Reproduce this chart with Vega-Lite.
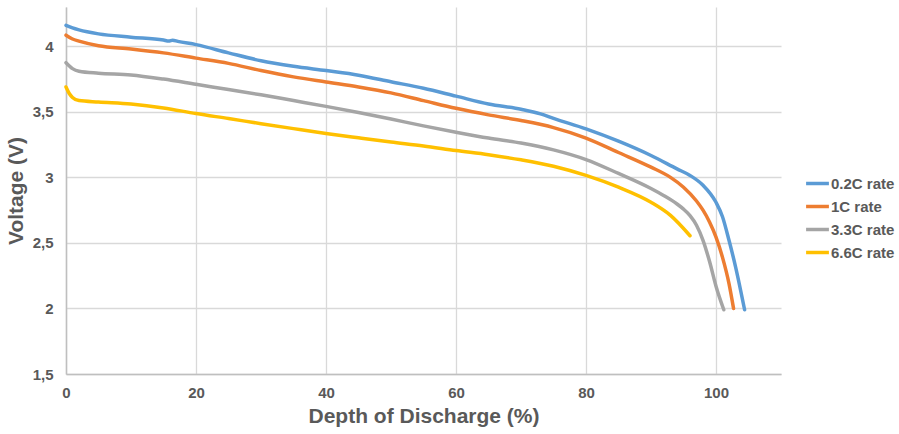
{
  "$schema": "https://vega.github.io/schema/vega-lite/v6.json",
  "width": 715,
  "height": 367,
  "autosize": {"type": "none"},
  "padding": {"left": 66, "top": 7, "right": 118, "bottom": 60},
  "background": "white",
  "config": {"view": {"stroke": null}},
  "datasets": {
    "curves": [
      {"rate": "0.2C rate", "dod": 0, "v": 4.16},
      {"rate": "0.2C rate", "dod": 1, "v": 4.14},
      {"rate": "0.2C rate", "dod": 2, "v": 4.125},
      {"rate": "0.2C rate", "dod": 5, "v": 4.095},
      {"rate": "0.2C rate", "dod": 10, "v": 4.07},
      {"rate": "0.2C rate", "dod": 15, "v": 4.048},
      {"rate": "0.2C rate", "dod": 15.8, "v": 4.04},
      {"rate": "0.2C rate", "dod": 16.4, "v": 4.047},
      {"rate": "0.2C rate", "dod": 17.2, "v": 4.038},
      {"rate": "0.2C rate", "dod": 20, "v": 4.013},
      {"rate": "0.2C rate", "dod": 25, "v": 3.95},
      {"rate": "0.2C rate", "dod": 30, "v": 3.89},
      {"rate": "0.2C rate", "dod": 35, "v": 3.848},
      {"rate": "0.2C rate", "dod": 40, "v": 3.815},
      {"rate": "0.2C rate", "dod": 45, "v": 3.78},
      {"rate": "0.2C rate", "dod": 50, "v": 3.73},
      {"rate": "0.2C rate", "dod": 55, "v": 3.68},
      {"rate": "0.2C rate", "dod": 60, "v": 3.62},
      {"rate": "0.2C rate", "dod": 65, "v": 3.56},
      {"rate": "0.2C rate", "dod": 70, "v": 3.52},
      {"rate": "0.2C rate", "dod": 73, "v": 3.485},
      {"rate": "0.2C rate", "dod": 75, "v": 3.45},
      {"rate": "0.2C rate", "dod": 80, "v": 3.37},
      {"rate": "0.2C rate", "dod": 85, "v": 3.276},
      {"rate": "0.2C rate", "dod": 90, "v": 3.167},
      {"rate": "0.2C rate", "dod": 94, "v": 3.065},
      {"rate": "0.2C rate", "dod": 96, "v": 3.015},
      {"rate": "0.2C rate", "dod": 98, "v": 2.94},
      {"rate": "0.2C rate", "dod": 100, "v": 2.81},
      {"rate": "0.2C rate", "dod": 101, "v": 2.7},
      {"rate": "0.2C rate", "dod": 102, "v": 2.52},
      {"rate": "0.2C rate", "dod": 103, "v": 2.32},
      {"rate": "0.2C rate", "dod": 104.4, "v": 1.99},
      {"rate": "1C rate", "dod": 0, "v": 4.085},
      {"rate": "1C rate", "dod": 1, "v": 4.056},
      {"rate": "1C rate", "dod": 2, "v": 4.04},
      {"rate": "1C rate", "dod": 5, "v": 4.005},
      {"rate": "1C rate", "dod": 10, "v": 3.98},
      {"rate": "1C rate", "dod": 15, "v": 3.95},
      {"rate": "1C rate", "dod": 20, "v": 3.91},
      {"rate": "1C rate", "dod": 25, "v": 3.87},
      {"rate": "1C rate", "dod": 30, "v": 3.815},
      {"rate": "1C rate", "dod": 35, "v": 3.767},
      {"rate": "1C rate", "dod": 40, "v": 3.728},
      {"rate": "1C rate", "dod": 45, "v": 3.69},
      {"rate": "1C rate", "dod": 50, "v": 3.645},
      {"rate": "1C rate", "dod": 55, "v": 3.586},
      {"rate": "1C rate", "dod": 60, "v": 3.527},
      {"rate": "1C rate", "dod": 65, "v": 3.477},
      {"rate": "1C rate", "dod": 70, "v": 3.434},
      {"rate": "1C rate", "dod": 75, "v": 3.38},
      {"rate": "1C rate", "dod": 80, "v": 3.3},
      {"rate": "1C rate", "dod": 85, "v": 3.19},
      {"rate": "1C rate", "dod": 90, "v": 3.078},
      {"rate": "1C rate", "dod": 93, "v": 3.0},
      {"rate": "1C rate", "dod": 95, "v": 2.925},
      {"rate": "1C rate", "dod": 97, "v": 2.82},
      {"rate": "1C rate", "dod": 98, "v": 2.75},
      {"rate": "1C rate", "dod": 99, "v": 2.66},
      {"rate": "1C rate", "dod": 100, "v": 2.545},
      {"rate": "1C rate", "dod": 101, "v": 2.39},
      {"rate": "1C rate", "dod": 102, "v": 2.19},
      {"rate": "1C rate", "dod": 102.7, "v": 2.0},
      {"rate": "3.3C rate", "dod": 0, "v": 3.875},
      {"rate": "3.3C rate", "dod": 1, "v": 3.83},
      {"rate": "3.3C rate", "dod": 2, "v": 3.81},
      {"rate": "3.3C rate", "dod": 5, "v": 3.795},
      {"rate": "3.3C rate", "dod": 10, "v": 3.782},
      {"rate": "3.3C rate", "dod": 15, "v": 3.75},
      {"rate": "3.3C rate", "dod": 20, "v": 3.71},
      {"rate": "3.3C rate", "dod": 25, "v": 3.67},
      {"rate": "3.3C rate", "dod": 30, "v": 3.63},
      {"rate": "3.3C rate", "dod": 35, "v": 3.586},
      {"rate": "3.3C rate", "dod": 40, "v": 3.542},
      {"rate": "3.3C rate", "dod": 45, "v": 3.495},
      {"rate": "3.3C rate", "dod": 50, "v": 3.445},
      {"rate": "3.3C rate", "dod": 55, "v": 3.393},
      {"rate": "3.3C rate", "dod": 60, "v": 3.345},
      {"rate": "3.3C rate", "dod": 65, "v": 3.3},
      {"rate": "3.3C rate", "dod": 70, "v": 3.262},
      {"rate": "3.3C rate", "dod": 75, "v": 3.21},
      {"rate": "3.3C rate", "dod": 80, "v": 3.136},
      {"rate": "3.3C rate", "dod": 85, "v": 3.03},
      {"rate": "3.3C rate", "dod": 90, "v": 2.915},
      {"rate": "3.3C rate", "dod": 92, "v": 2.86},
      {"rate": "3.3C rate", "dod": 94, "v": 2.797},
      {"rate": "3.3C rate", "dod": 95, "v": 2.758},
      {"rate": "3.3C rate", "dod": 96, "v": 2.708},
      {"rate": "3.3C rate", "dod": 97, "v": 2.635},
      {"rate": "3.3C rate", "dod": 98, "v": 2.52},
      {"rate": "3.3C rate", "dod": 99, "v": 2.36},
      {"rate": "3.3C rate", "dod": 100, "v": 2.17},
      {"rate": "3.3C rate", "dod": 101.2, "v": 1.99},
      {"rate": "6.6C rate", "dod": 0, "v": 3.69},
      {"rate": "6.6C rate", "dod": 0.5, "v": 3.64},
      {"rate": "6.6C rate", "dod": 1, "v": 3.61},
      {"rate": "6.6C rate", "dod": 2, "v": 3.586},
      {"rate": "6.6C rate", "dod": 5, "v": 3.575},
      {"rate": "6.6C rate", "dod": 10, "v": 3.56},
      {"rate": "6.6C rate", "dod": 15, "v": 3.53},
      {"rate": "6.6C rate", "dod": 20, "v": 3.487},
      {"rate": "6.6C rate", "dod": 25, "v": 3.449},
      {"rate": "6.6C rate", "dod": 30, "v": 3.41},
      {"rate": "6.6C rate", "dod": 35, "v": 3.372},
      {"rate": "6.6C rate", "dod": 40, "v": 3.335},
      {"rate": "6.6C rate", "dod": 45, "v": 3.302},
      {"rate": "6.6C rate", "dod": 50, "v": 3.27},
      {"rate": "6.6C rate", "dod": 55, "v": 3.24},
      {"rate": "6.6C rate", "dod": 60, "v": 3.205},
      {"rate": "6.6C rate", "dod": 65, "v": 3.173},
      {"rate": "6.6C rate", "dod": 70, "v": 3.134},
      {"rate": "6.6C rate", "dod": 75, "v": 3.085},
      {"rate": "6.6C rate", "dod": 80, "v": 3.015},
      {"rate": "6.6C rate", "dod": 85, "v": 2.925},
      {"rate": "6.6C rate", "dod": 90, "v": 2.81},
      {"rate": "6.6C rate", "dod": 93, "v": 2.71},
      {"rate": "6.6C rate", "dod": 96, "v": 2.555}
    ]
  },
  "data": {"name": "curves"},
  "mark": {"type": "line", "strokeWidth": 3.5, "interpolate": "monotone", "strokeCap": "round", "strokeJoin": "round"},
  "encoding": {
    "x": {
      "field": "dod", "type": "quantitative",
      "scale": {"domain": [0, 110], "nice": false, "zero": false},
      "axis": {
        "title": "Depth of Discharge (%)",
        "values": [0, 20, 40, 60, 80, 100],
        "grid": true, "gridColor": "#d9d9d9", "gridWidth": 1.3,
        "domainColor": "#bfbfbf", "domainWidth": 1.5,
        "ticks": false, "labelPadding": 11, "labelFlush": false,
        "labelFont": "Liberation Sans", "labelFontWeight": "bold", "labelFontSize": 15, "labelColor": "#595959",
        "titleFont": "Liberation Sans", "titleFontWeight": "bold", "titleFontSize": 21, "titleColor": "#595959", "titlePadding": 5
      }
    },
    "y": {
      "field": "v", "type": "quantitative",
      "scale": {"domain": [1.5, 4.3], "nice": false, "zero": false},
      "axis": {
        "title": "Voltage (V)",
        "values": [1.5, 2, 2.5, 3, 3.5, 4],
        "labelExpr": "replace(format(datum.value, '~g'), '.', ',')",
        "grid": true, "gridColor": "#d9d9d9", "gridWidth": 1.3,
        "domainColor": "#bfbfbf", "domainWidth": 1.5,
        "ticks": false, "labelPadding": 13, "labelFlush": false,
        "labelFont": "Liberation Sans", "labelFontWeight": "bold", "labelFontSize": 15, "labelColor": "#595959",
        "titleFont": "Liberation Sans", "titleFontWeight": "bold", "titleFontSize": 21, "titleColor": "#595959", "titlePadding": 6
      }
    },
    "color": {
      "field": "rate", "type": "nominal",
      "scale": {
        "domain": ["0.2C rate", "1C rate", "3.3C rate", "6.6C rate"],
        "range": ["#5b9bd5", "#ed7d31", "#a5a5a5", "#ffc000"]
      },
      "legend": {
        "title": null, "orient": "none", "legendX": 738, "legendY": 163,
        "symbolType": "stroke", "symbolSize": 520, "symbolStrokeWidth": 3.5,
        "labelFont": "Liberation Sans", "labelFontWeight": "bold", "labelFontSize": 15, "labelColor": "#595959",
        "labelOffset": 0, "rowPadding": 1
      }
    }
  }
}
